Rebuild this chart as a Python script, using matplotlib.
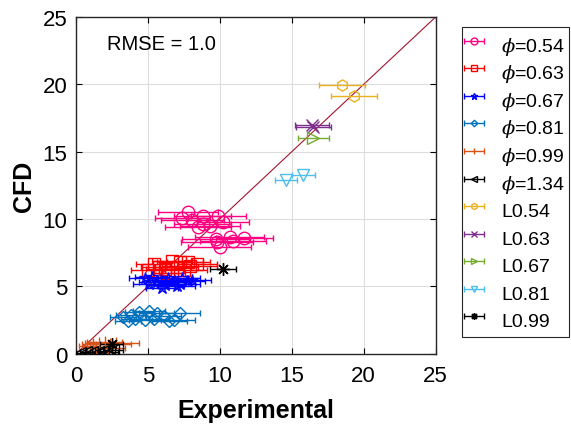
import numpy as np
import matplotlib.pyplot as plt

plt.rcParams['font.family'] = ['Liberation Sans', 'DejaVu Sans']
plt.rcParams['mathtext.fontset'] = 'dejavuserif'

# phi series (CFD vs experimental, horizontal error bars on experiment)
phi054_x = [7.8, 8.8, 9.9, 8.1, 8.8, 10.2, 7.4, 9.3, 8.5, 9.7, 10.7, 11.7, 9.8, 10.0, 10.9]
phi054_y = [10.5, 10.2, 10.2, 9.9, 9.6, 9.8, 10.1, 9.5, 9.4, 8.5, 8.7, 8.6, 8.3, 7.9, 8.4]
phi054_e = [2.1, 2.0, 1.9, 2.2, 2.0, 1.8, 1.9, 2.1, 2.3, 2.3, 2.4, 2.0, 2.5, 2.2, 2.3]

phi063_x = [5.4, 6.7, 7.2, 7.8, 8.4, 5.8, 7.0, 7.9, 5.0, 6.2, 6.4, 7.5]
phi063_y = [6.7, 6.9, 6.8, 6.8, 6.7, 6.45, 6.45, 6.5, 6.2, 6.3, 6.0, 6.2]
phi063_e = [1.2, 1.4, 1.6, 1.5, 1.4, 1.3, 1.5, 1.9, 1.2, 1.3, 1.2, 1.6]

phi067_x = [4.8, 5.3, 5.9, 6.4, 6.9, 7.4, 8.1, 5.1, 5.6, 6.2, 6.7, 7.2, 7.8, 6.0, 7.0]
phi067_y = [5.6, 5.7, 5.5, 5.6, 5.4, 5.6, 5.5, 5.2, 5.3, 5.1, 5.3, 5.2, 5.4, 4.9, 5.0]
phi067_e = [1.1, 1.2, 1.2, 1.3, 1.4, 1.2, 1.3, 1.1, 1.2, 1.3, 1.3, 1.4, 1.2, 1.1, 1.3]

phi081_x = [3.3, 3.8, 4.4, 5.1, 5.6, 4.1, 4.8, 5.4, 6.1, 6.5, 7.2, 6.8, 3.6]
phi081_y = [2.7, 2.9, 3.1, 3.2, 3.0, 2.6, 2.5, 2.6, 2.8, 2.45, 3.0, 2.5, 2.4]
phi081_e = [0.9, 1.0, 1.0, 1.1, 1.2, 1.0, 1.1, 1.1, 1.2, 1.2, 1.4, 1.5, 0.9]

phi099_x = [0.8, 1.2, 1.6, 2.0, 2.4, 2.8, 1.4, 2.2]
phi099_y = [0.6, 0.7, 0.8, 0.9, 0.7, 0.8, 0.5, 0.4]
phi099_e = [0.6, 0.8, 1.0, 1.2, 1.4, 1.6, 0.9, 1.2]

phi134_x = [0.3, 0.7, 1.1, 1.5, 1.9, 2.3, 2.6]
phi134_y = [0.05, 0.1, 0.15, 0.1, 0.2, 0.1, 0.25]
phi134_e = [0.3, 0.4, 0.5, 0.5, 0.6, 0.6, 0.7]

# laminar flame cases
L054_x, L054_y, L054_e = [18.5, 19.3], [19.95, 19.1], [1.6, 1.6]
L063_x, L063_y, L063_e = [16.4, 16.5], [17.0, 16.8], [1.2, 1.2]
L067_x, L067_y, L067_e = [16.5], [16.0], [1.1]
L081_x, L081_y, L081_e = [14.6, 15.8], [12.9, 13.3], [0.75, 0.8]
L099_x, L099_y, L099_e = [10.2, 2.5], [6.3, 0.7], [0.9, 0.8]

series = [
    (phi054_x, phi054_y, phi054_e, r'$\phi$=0.54', 'o', '#FF0080', 9),
    (phi063_x, phi063_y, phi063_e, r'$\phi$=0.63', 's', '#FF0000', 8),
    (phi067_x, phi067_y, phi067_e, r'$\phi$=0.67', '*', '#0000FF', 9),
    (phi081_x, phi081_y, phi081_e, r'$\phi$=0.81', 'D', '#0072BD', 6),
    (phi099_x, phi099_y, phi099_e, r'$\phi$=0.99', '|', '#D95319', 9),
    (phi134_x, phi134_y, phi134_e, r'$\phi$=1.34', '<', '#000000', 8),
    (L054_x, L054_y, L054_e, 'L0.54', 'h', '#EDB120', 8),
    (L063_x, L063_y, L063_e, 'L0.63', 'x', '#7E2F8E', 8),
    (L067_x, L067_y, L067_e, 'L0.67', '>', '#77AC30', 9),
    (L081_x, L081_y, L081_e, 'L0.81', 'v', '#4DBEEE', 9),
    (L099_x, L099_y, L099_e, 'L0.99', (8, 2, 0), '#000000', 9),
]

fig = plt.figure(figsize=(5.71, 4.27), dpi=100)
ax = fig.add_axes([0.133, 0.169, 0.630, 0.789])

ax.plot([0, 25], [0, 25], color='#A2142F', lw=0.8, zorder=1)

for x, y, e, lab, mk, col, ms in series:
    ax.errorbar(x, y, xerr=e, fmt='', marker=mk, linestyle='none', color=col,
                mfc='none', mec=col, ms=ms, capsize=2.5, elinewidth=1.0,
                mew=1.0, label=lab, zorder=3)

ax.text(2.15, 23.0, 'RMSE = 1.0', fontsize=14.5, va='center')

ax.set_xlim(0, 25)
ax.set_ylim(0, 25)
ax.set_xticks(np.arange(0, 26, 5))
ax.set_yticks(np.arange(0, 26, 5))
ax.tick_params(direction='in', top=True, right=True, labelsize=16, length=4)
ax.tick_params(axis='x', pad=8)
ax.tick_params(axis='y', pad=6)
ax.grid(True, color='#DDDDDD', lw=0.8)
ax.set_axisbelow(True)
for s in ax.spines.values():
    s.set_linewidth(1.0)
    s.set_color('#262626')
ax.set_xlabel('Experimental', fontsize=18, fontweight='bold', labelpad=9)
ax.set_ylabel('CFD', fontsize=18, fontweight='bold', labelpad=5)

# tall handle boxes keep every legend row the same height
leg = ax.legend(loc='upper left', bbox_to_anchor=(1.072, 0.97), borderaxespad=0,
                fontsize=14, markerscale=0.55, handlelength=0.9,
                handleheight=1.80, handletextpad=0.95, labelspacing=0.0,
                borderpad=0.2, fancybox=False, edgecolor='#262626',
                framealpha=1)
leg.get_frame().set_linewidth(0.8)

fig.savefig('out.png', dpi=100)
